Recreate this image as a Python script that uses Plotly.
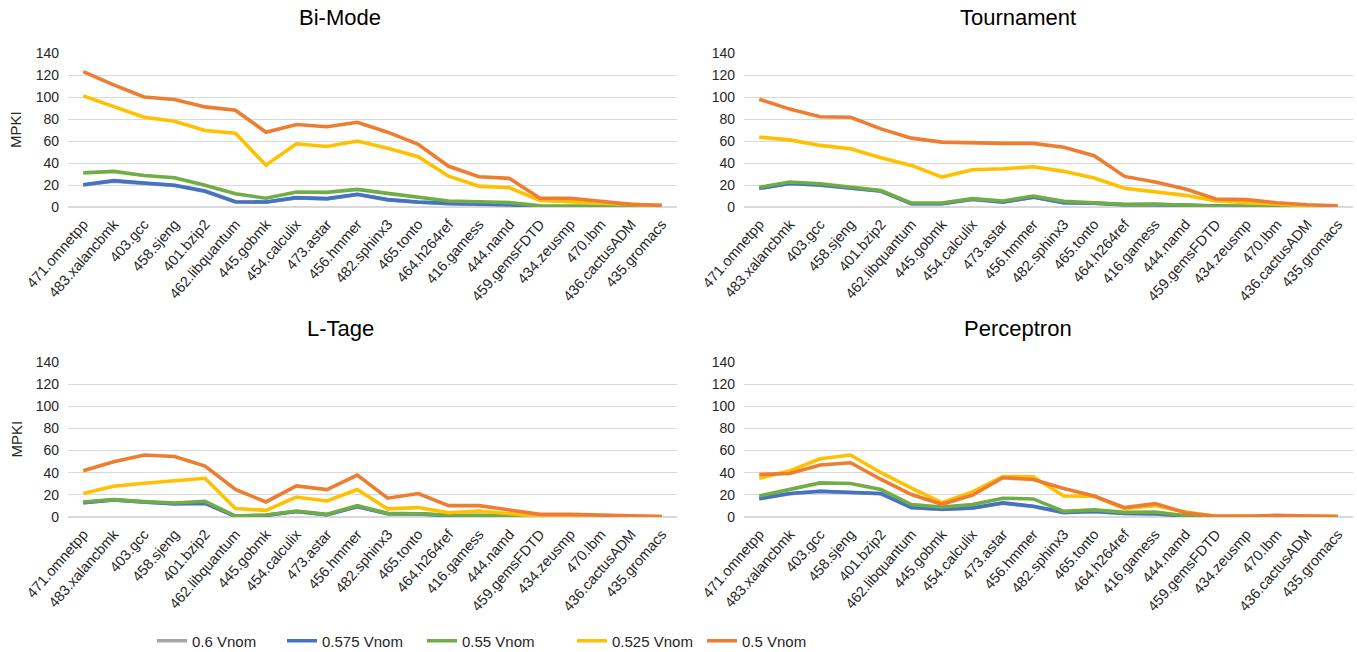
import plotly.graph_objects as go

benchmarks = ["471.omnetpp", "483.xalancbmk", "403.gcc", "458.sjeng", "401.bzip2",
              "462.libquantum", "445.gobmk", "454.calculix", "473.astar", "456.hmmer",
              "482.sphinx3", "465.tonto", "464.h264ref", "416.gamess", "444.namd",
              "459.gemsFDTD", "434.zeusmp", "470.lbm", "436.cactusADM", "435.gromacs"]

series_names = ["0.6 Vnom", "0.575 Vnom", "0.55 Vnom", "0.525 Vnom", "0.5 Vnom"]
series_colors = ["#a5a5a5", "#4472c4", "#70ad47", "#ffc000", "#ed7d31"]
panel_titles = ["Bi-Mode", "Tournament", "L-Tage", "Perceptron"]
y_ticks = [0, 20, 40, 60, 80, 100, 120, 140]

# Bi-Mode
bimode_06 = [20, 23.5, 21.5, 19.5, 14, 4.5, 4.3, 8.3, 7.4, 11.3, 6.5, 4.3, 3.1, 2.8, 1.8, 0.2, 0.2, 0.1, 0.1, 0.1]
bimode_0575 = [20.3, 24, 21.8, 19.7, 14.5, 4.8, 4.5, 8.5, 7.6, 11.5, 6.7, 4.5, 3.3, 3, 2, 0.3, 0.2, 0.1, 0.1, 0.1]
bimode_055 = [31, 32.4, 28.7, 26.6, 19.7, 12, 8, 13.6, 13.3, 16, 12.4, 9, 5.4, 4.8, 4, 1, 1, 0.6, 0.3, 0.3]
bimode_0525 = [101, 91.6, 81.6, 78, 69.5, 67, 38, 57.5, 55, 60, 53.5, 45.7, 28, 19, 17.5, 6, 5, 4, 2.4, 1]
bimode_05 = [123, 111, 100, 97.7, 91, 88, 68, 75, 73, 77, 68, 57, 37, 27.5, 26, 8, 8, 5.4, 2.4, 1.5]

# Tournament
tour_06 = [16.8, 21.3, 19.8, 16.8, 14.3, 2.9, 2.9, 6.8, 4.4, 8.8, 3.9, 3.4, 1.9, 2.1, 1.4, 0.3, 0.3, 0.2, 0.1, 0.1]
tour_0575 = [17, 21.5, 20, 17, 14.5, 3, 3, 7, 4.5, 9, 4, 3.5, 2, 2.2, 1.5, 0.3, 0.3, 0.2, 0.1, 0.1]
tour_055 = [18, 22.7, 21.2, 18, 15, 3.6, 3.6, 7.6, 5.4, 10, 5.1, 3.9, 2.4, 2.7, 1.8, 0.6, 0.6, 0.3, 0.3, 0.3]
tour_0525 = [63.5, 61, 56, 53, 44.8, 37.8, 27.2, 33.9, 34.8, 36.6, 32.4, 26.3, 17, 13.6, 10.6, 5.4, 4, 2.4, 1.2, 0.6]
tour_05 = [98, 89, 82, 81.6, 71, 62.6, 59, 58, 57.8, 57.8, 54.4, 46.6, 27.8, 22.7, 16.3, 7.3, 6.7, 3.9, 2.1, 1.2]

# L-Tage
ltage_06 = [12.8, 15.3, 13.3, 11.8, 12.3, 0.5, 1.4, 4.9, 1.9, 9.3, 2.9, 2.7, 1.2, 1.2, 0.9, 0.2, 0.1, 0.1, 0.1, 0.1]
ltage_0575 = [13, 15.5, 13.5, 12, 12.5, 0.6, 1.5, 5, 2, 9.5, 3, 2.8, 1.3, 1.3, 1, 0.2, 0.1, 0.1, 0.1, 0.1]
ltage_055 = [13.6, 15.7, 13.9, 12.7, 14.2, 0.9, 1.8, 5.4, 2.4, 10.3, 3.3, 3, 1.8, 1.8, 1.5, 0.3, 0.3, 0.2, 0.2, 0.2]
ltage_0525 = [21.2, 27.8, 30.5, 33, 35, 7.6, 6, 18, 14.5, 24.8, 7.3, 8.5, 3.9, 5.4, 3, 0.6, 0.6, 0.3, 0.3, 0.3]
ltage_05 = [41.7, 49.9, 56, 54.7, 46, 24.8, 13.6, 28.1, 24.8, 37.8, 17, 21.2, 10.3, 10.3, 6.4, 2.4, 2.4, 1.8, 0.9, 0.3]

# Perceptron
perc_06 = [16.4, 21, 23.1, 21.8, 21, 8.3, 6.8, 8, 12.5, 9.5, 4, 4.9, 3.1, 2.8, 0.8, 0.2, 0.2, 0.2, 0.2, 0.1]
perc_0575 = [16.6, 21.2, 23.3, 22, 21.2, 8.5, 7, 8.2, 12.7, 9.7, 4.2, 5.1, 3.3, 3, 0.9, 0.3, 0.3, 0.3, 0.3, 0.2]
perc_055 = [19, 24.8, 30.8, 30.2, 24.8, 11.2, 9, 11.2, 17, 16.3, 5.1, 6.4, 4.2, 4.5, 1.2, 0.3, 0.3, 0.3, 0.3, 0.3]
perc_0525 = [35, 41.7, 52.6, 56, 40, 26, 13, 22.7, 36.6, 36.3, 19, 18.7, 7.6, 10.3, 4.5, 0.6, 0.9, 1.2, 0.9, 0.3]
perc_05 = [38.4, 39.3, 46.9, 49, 33.9, 20.3, 11.5, 19.7, 35.4, 33.9, 25.7, 19, 8.5, 12.1, 3.9, 0.6, 0.6, 1.5, 0.9, 0.3]

panels = [
    [bimode_06, bimode_0575, bimode_055, bimode_0525, bimode_05],
    [tour_06, tour_0575, tour_055, tour_0525, tour_05],
    [ltage_06, ltage_0575, ltage_055, ltage_0525, ltage_05],
    [perc_06, perc_0575, perc_055, perc_0525, perc_05],
]

W, H = 1357, 652
FONT = "Liberation Sans, Arial, sans-serif"
TXT = "#262626"

# pixel geometry of plot areas
x_px = [(68, 677), (744, 1353), (68, 677), (744, 1353)]
y_px = [(53, 207), (53, 207), (362, 517), (362, 517)]
title_pos = [(340, 18), (1018, 18), (340, 328), (1018, 328)]
legend_x_px = [163, 293, 433, 583, 713]

fig = go.Figure()
cats = benchmarks

for p, data in enumerate(panels):
    ax = "" if p == 0 else str(p + 1)
    for s, vals in enumerate(data):
        fig.add_trace(go.Scatter(
            x=cats, y=vals, mode="lines", name=series_names[s],
            line=dict(color=series_colors[s], width=3.6),
            showlegend=(p == 0), legend="legend" if s == 0 else "legend%d" % (s + 1),
            xaxis="x" + ax, yaxis="y" + ax, hoverinfo="skip"))
    x0, x1 = x_px[p]
    y0, y1 = y_px[p]
    xa = dict(domain=[x0 / W, x1 / W], anchor="y" + ax, type="category",
              range=[-0.5, len(cats) - 0.5], tickangle=-49, showgrid=False,
              showline=False, ticks="", zeroline=False, automargin=False,
              ticklabelstandoff=5,
              tickfont=dict(family=FONT, size=14.5, color=TXT))
    ya = dict(domain=[1 - y1 / H, 1 - y0 / H], anchor="x" + ax, range=[0, 140],
              tickvals=y_ticks, showgrid=True, gridcolor="#d9d9d9", gridwidth=1,
              zeroline=True, zerolinecolor="#d9d9d9", zerolinewidth=2,
              showline=False, ticks="", ticklabelstandoff=8, automargin=False,
              tickfont=dict(family=FONT, size=14, color=TXT))
    fig.update_layout(**{"xaxis" + ax: xa, "yaxis" + ax: ya})
    tx, ty = title_pos[p]
    fig.add_annotation(text=panel_titles[p], x=tx / W, y=1 - ty / H, xref="paper", yref="paper",
                       showarrow=False, xanchor="center", yanchor="middle",
                       font=dict(family=FONT, size=22, color="#000000"))
    if p in (0, 2):
        fig.add_annotation(text="MPKI", x=16 / W, y=1 - ((y0 + y1) / 2) / H,
                           xref="paper", yref="paper", showarrow=False, textangle=-90,
                           xanchor="center", yanchor="middle",
                           font=dict(family=FONT, size=15, color=TXT))

legend_layout = {}
for s in range(len(series_names)):
    key = "legend" if s == 0 else "legend%d" % (s + 1)
    legend_layout[key] = dict(orientation="h", x=(legend_x_px[s] - 11) / W, y=1 - 641 / H,
                              xanchor="left", yanchor="middle", itemwidth=30,
                              bgcolor="rgba(0,0,0,0)", borderwidth=0,
                              font=dict(family=FONT, size=15, color=TXT))

fig.update_layout(
    width=W, height=H, margin=dict(l=0, r=0, t=0, b=0, autoexpand=False),
    paper_bgcolor="white", plot_bgcolor="white",
    font=dict(family=FONT, color=TXT),
    **legend_layout,
)

fig.write_html("out.html")
